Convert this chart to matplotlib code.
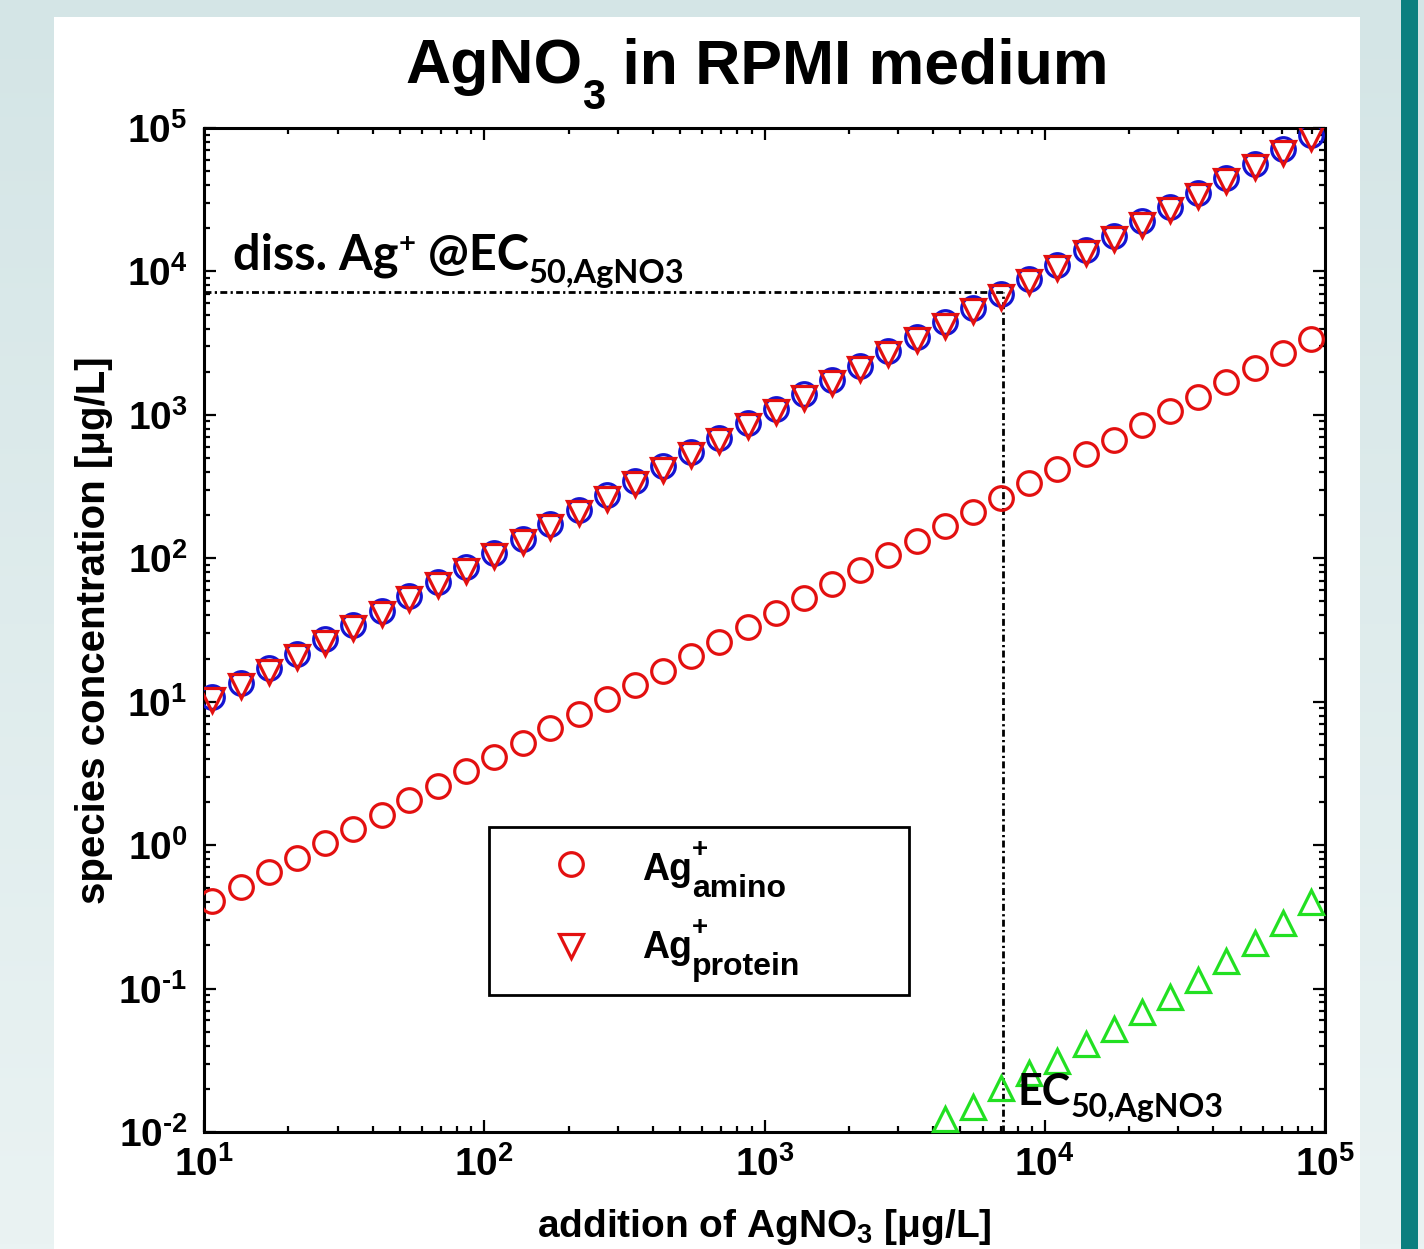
import numpy as np
import matplotlib

matplotlib.use("Agg")
import matplotlib.pyplot as plt
from matplotlib import transforms
from matplotlib.colors import LinearSegmentedColormap
from matplotlib.patches import Rectangle
from matplotlib.ticker import FuncFormatter, LogLocator, NullFormatter

W, H, DPI = 1424, 1249, 100

plt.rcParams["font.family"] = "Liberation Sans"
plt.rcParams["font.weight"] = "bold"
plt.rcParams["mathtext.fontset"] = "custom"
plt.rcParams["mathtext.rm"] = "Liberation Sans:bold"
plt.rcParams["mathtext.it"] = "Liberation Sans:bold"
plt.rcParams["mathtext.bf"] = "Liberation Sans:bold"

# AgNO3 added [ug/L] (same x for every series)
added = [10.7, 13.5, 17.0, 21.5, 27.0, 34.1, 43.0, 54.1, 68.2, 86.0,
         108, 137, 172, 217, 274, 345, 435, 548, 690, 870,
         1096, 1382, 1742, 2195, 2767, 3487, 4395, 5540, 6982, 8800,
         11090, 13980, 17620, 22210, 27990, 35280, 44460, 56040, 70630, 89020]

# dissolved Ag+ (blue circles)
diss_ag = [10.8, 13.6, 17.1, 21.6, 27.2, 34.3, 43.2, 54.4, 68.6, 86.4,
           109, 137, 173, 218, 275, 346, 437, 550, 693, 874,
           1101, 1388, 1750, 2205, 2780, 3503, 4415, 5565, 7014, 8840,
           11140, 14040, 17700, 22310, 28120, 35440, 44660, 56290, 70950, 89420]

# Ag+ bound to protein (red down triangles)
ag_protein = [10.2, 12.9, 16.2, 20.5, 25.8, 32.5, 41.0, 51.7, 65.1, 82.1,
              103, 130, 164, 207, 261, 329, 415, 523, 659, 830,
              1046, 1319, 1662, 2095, 2641, 3328, 4194, 5287, 6663, 8398,
              10580, 13340, 16810, 21190, 26710, 33670, 42430, 53480, 67400, 84950]

# Ag+ bound to amino acids (red circles)
ag_amino = [0.41, 0.51, 0.65, 0.82, 1.03, 1.30, 1.63, 2.06, 2.59, 3.27,
            4.12, 5.19, 6.54, 8.25, 10.4, 13.1, 16.5, 20.8, 26.2, 33.1,
            41.6, 52.5, 66.2, 83.4, 105, 132, 167, 211, 265, 334,
            421, 531, 670, 844, 1064, 1341, 1690, 2130, 2684, 3383]

# free species at high dose (green up triangles)
green_x = [4395, 5540, 6982, 8800, 11090, 13980, 17620, 22210,
           27990, 35280, 44460, 56040, 70630, 89020]
green_y = [0.0123, 0.0149, 0.0203, 0.0258, 0.0313, 0.0411, 0.0523, 0.0687,
           0.0874, 0.115, 0.156, 0.208, 0.286, 0.402]

EC50_X = 7100
EC50_Y = 7150

RED = "#e31010"
BLUE = "#1414d2"
GREEN = "#22e022"


def rich_text(fig, x, y, pieces, transform, family="Lato", zorder=10):
    # pieces: (text, size pt, baseline shift pt, advance?)
    renderer = fig.canvas.get_renderer()
    dx = 0.0
    for text, size, rise, advance in pieces:
        tr = transforms.offset_copy(transform, fig=fig, x=dx, y=rise * DPI / 72, units="dots")
        t = fig.text(x, y, text, transform=tr, fontsize=size, family=family, fontweight="bold",
                     ha="left", va="baseline", zorder=zorder)
        if advance:
            dx += t.get_window_extent(renderer).width
    return dx


fig = plt.figure(figsize=(W / DPI, H / DPI), dpi=DPI)

# slide background
bg = fig.add_axes([0, 0, 1, 1])
bg.set_axis_off()
cmap = LinearSegmentedColormap.from_list("bg", ["#d4e5e6", "#eaf3f3"])
bg.imshow(np.linspace(0, 1, 256).reshape(-1, 1), aspect="auto", cmap=cmap,
          extent=[0, 1, 0, 1], origin="upper")
bg.set_xlim(0, 1)
bg.set_ylim(0, 1)
bg.add_patch(Rectangle((54 / W, 0), (1360 - 54) / W, 1 - 17 / H, facecolor="white", edgecolor="none"))
bg.add_patch(Rectangle((1401 / W, 0), 17 / W, 1, facecolor="#0b7f7f", edgecolor="none"))

ax = fig.add_axes([204 / W, 1 - 1132 / H, (1325 - 204) / W, (1132 - 128) / H])
ax.set_xscale("log")
ax.set_yscale("log")
ax.set_xlim(10, 1e5)
ax.set_ylim(1e-2, 1e5)

ms, mew = 17, 2.3
ax.plot(added, diss_ag, "o", ms=ms, mfc="none", mec=BLUE, mew=mew, zorder=3)
ax.plot(added, ag_protein, "v", ms=ms, mfc="none", mec=RED, mew=mew, zorder=4, label=" ")
ax.plot(added, ag_amino, "o", ms=ms, mfc="none", mec=RED, mew=mew, zorder=4, label=" ")
ax.plot(green_x, green_y, "^", ms=ms, mfc="none", mec=GREEN, mew=mew, zorder=4, clip_on=False)

dash = (0, (2.5, 1.2, 0.8, 1.2))
ax.plot([10, EC50_X], [EC50_Y, EC50_Y], color="black", lw=2.0, ls=dash, zorder=2)
ax.plot([EC50_X, EC50_X], [1e-2, EC50_Y], color="black", lw=2.0, ls=dash, zorder=2)

fmt = FuncFormatter(lambda v, p: r"$10^{%s}$" % str(round(np.log10(v))).replace("-", "\u2010"))
for axis in (ax.xaxis, ax.yaxis):
    axis.set_major_locator(LogLocator(base=10, numticks=20))
    axis.set_minor_locator(LogLocator(base=10, subs=np.arange(2, 10), numticks=100))
    axis.set_major_formatter(fmt)
    axis.set_minor_formatter(NullFormatter())

ax.tick_params(which="both", direction="in", top=True, right=True, width=1.6, labelsize=28)
ax.tick_params(which="major", length=8.5)
ax.tick_params(which="minor", length=4.5)
ax.tick_params(axis="y", pad=12)
ax.tick_params(axis="x", pad=10)
for sp in ax.spines.values():
    sp.set_linewidth(2.2)

ax.set_xlabel(r"addition of AgNO$_3$ [μg/L]", fontsize=28, fontweight="bold", labelpad=17)
ax.set_ylabel(r"species concentration [μg/L]", fontsize=29, fontweight="bold", labelpad=4)

# title with a low subscript, as in the original
rich_text(fig, 405 / W, 1 - 83 / H,
          [("AgNO", 45, 0, True), ("3", 30, -18.5, True), (" in RPMI medium", 45, 0, True)],
          fig.transFigure, family="Liberation Sans")

# annotations
rich_text(fig, 12.7, 1.03e4,
          [("diss. Ag", 35, 0, True), ("+", 21, 13, True), (" @EC", 35, 0, True), ("50,AgNO3", 23.5, -10, True)],
          ax.transData)
rich_text(fig, 8000, 0.0155, [("EC", 31, 0, True), ("50,AgNO3", 23, -9, True)], ax.transData)

# legend: frame and keys from the legend, rich labels drawn next to them
x0, x1 = (489 - 204) / 1121, (909 - 204) / 1121
y0, y1 = (1132 - 995) / 1004, (1132 - 827) / 1004
ax.add_patch(Rectangle((x0, y0), x1 - x0, y1 - y0, transform=ax.transAxes, facecolor="white",
                       edgecolor="black", lw=2.0, zorder=6))
handles, _ = ax.get_legend_handles_labels()
leg = ax.legend(handles[::-1], [" ", " "], loc="center left",
                bbox_to_anchor=((552 - 204) / 1121, (1132 - 908) / 1004),
                frameon=False, fontsize=27, numpoints=1, borderpad=0, handlelength=1.0,
                handletextpad=0.2, labelspacing=1.21, borderaxespad=0)
leg.set_zorder(7)

for base_px, sub in [(880, "amino"), (958, "protein")]:
    rich_text(fig, (642 - 204) / 1121, (1132 - base_px) / 1004,
              [("Ag", 27, 0, True), ("+", 20, 16.5, False), (sub, 23, -12.2, True)],
              ax.transAxes, family="Liberation Sans", zorder=8)

fig.savefig("out.png", dpi=DPI)
